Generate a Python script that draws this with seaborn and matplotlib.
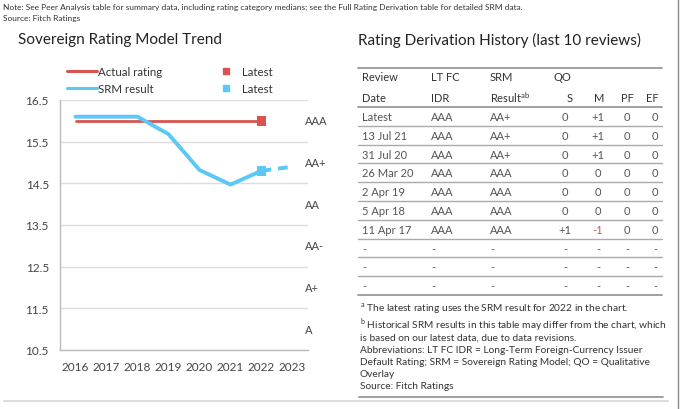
import matplotlib
matplotlib.use("Agg")
import matplotlib.pyplot as plt
from matplotlib.lines import Line2D
from matplotlib import font_manager
import seaborn as sns
import pandas as pd

# ---------------- data ----------------
years = [2016, 2017, 2018, 2019, 2020, 2021, 2022, 2023]
actual_years = [2016, 2017, 2018, 2019, 2020, 2021, 2022]
actual_rating = [16.0, 16.0, 16.0, 16.0, 16.0, 16.0, 16.0]
srm_years = [2016, 2017, 2018, 2019, 2020, 2021, 2022]
srm_result = [16.1, 16.1, 16.1, 15.68, 14.82, 14.47, 14.8]
srm_fcst_years = [2022, 2023]
srm_fcst = [14.8, 14.9]
y_ticks = [10.5, 11.5, 12.5, 13.5, 14.5, 15.5, 16.5]
rating_labels = ["A", "A+", "AA-", "AA", "AA+", "AAA"]
rating_levels = [11, 12, 13, 14, 15, 16]

table_header1 = ["Review", "LT FC", "SRM", "QO", "", "", ""]
table_header2 = ["Date", "IDR", "Result", "S", "M", "PF", "EF"]
review_dates = ["Latest", "13 Jul 21", "31 Jul 20", "26 Mar 20", "2 Apr 19",
                "5 Apr 18", "11 Apr 17", "-", "-", "-"]
lt_fc_idr = ["AAA", "AAA", "AAA", "AAA", "AAA", "AAA", "AAA", "-", "-", "-"]
srm_res = ["AA+", "AA+", "AA+", "AAA", "AAA", "AAA", "AAA", "-", "-", "-"]
qo_s = ["0", "0", "0", "0", "0", "0", "+1", "-", "-", "-"]
qo_m = ["+1", "+1", "+1", "0", "0", "0", "-1", "-", "-", "-"]
qo_pf = ["0", "0", "0", "0", "0", "0", "0", "-", "-", "-"]
qo_ef = ["0", "0", "0", "0", "0", "0", "0", "-", "-", "-"]

RED = "#D9534F"
BLUE = "#5BC8F5"
TXT = "#333333"

sns.set_theme(style="white")
plt.rcParams["font.family"] = ["Lato", "DejaVu Sans"]

installed = {f.name for f in font_manager.fontManager.ttflist}
NARROW = ["Liberation Sans Narrow", "Lato"] if "Liberation Sans Narrow" in installed else ["Lato"]
note_fs = 6.8 if "Liberation Sans Narrow" in installed else 6.0

W, H = 680, 410
fig = plt.figure(figsize=(W / 100, H / 100), dpi=100)


def fx(x):
    return x / W


def fy(y):
    return 1 - y / H


def ftext(x, y, s, **kw):
    kw.setdefault("color", TXT)
    kw.setdefault("va", "center")
    fig.text(fx(x), fy(y), s, **kw)


def fline(x0, x1, y0, y1, color="#aaaaaa", lw=1.0):
    fig.add_artist(Line2D([fx(x0), fx(x1)], [fy(y0), fy(y1)],
                          transform=fig.transFigure, color=color, lw=lw))


# ---------------- left chart ----------------
ax = fig.add_axes([fx(60), fy(351), (308 - 60) / W, (351 - 101) / H])
df_act = pd.DataFrame({"year": actual_years, "v": actual_rating})
df_srm = pd.DataFrame({"year": srm_years, "v": srm_result})
df_fc = pd.DataFrame({"year": srm_fcst_years, "v": srm_fcst})

sns.lineplot(data=df_act, x="year", y="v", ax=ax, color=RED, lw=2.0, zorder=3)
sns.lineplot(data=df_srm, x="year", y="v", ax=ax, color=BLUE, lw=2.8, zorder=4)
sns.lineplot(data=df_fc, x="year", y="v", ax=ax, color=BLUE, lw=2.8,
             linestyle=(0, (2.5, 1.8)), zorder=4)
sns.scatterplot(x=[actual_years[-1]], y=[actual_rating[-1]], ax=ax, color=RED,
                marker="s", s=50, edgecolor="none", zorder=5)
sns.scatterplot(x=[srm_years[-1]], y=[srm_result[-1]], ax=ax, color=BLUE,
                marker="s", s=50, edgecolor="none", zorder=5)

ax.set_xlim(2015.5, 2023.5)
ax.set_ylim(10.5, 16.5)
ax.set_yticks(y_ticks)
ax.set_yticklabels([f"{t:.1f}" for t in y_ticks])
ax.set_xticks(years)
ax.set_xticklabels([str(y) for y in years])
ax.set_xlabel("")
ax.set_ylabel("")
ax.grid(axis="y", color="#dddddd", lw=1.0)
ax.grid(axis="x", visible=False)
for s in ["top", "right"]:
    ax.spines[s].set_visible(False)
for s in ["left", "bottom"]:
    ax.spines[s].set_color("#bbbbbb")
    ax.spines[s].set_linewidth(1.0)
ax.tick_params(axis="both", length=0, labelsize=8.5, colors="#444444")
ax.tick_params(axis="y", pad=8)
ax.tick_params(axis="x", pad=8)
for lvl, lab in zip(rating_levels, rating_labels):
    ax.text((305 - 60) / 248, lvl, lab, transform=ax.get_yaxis_transform(),
            ha="left", va="center", fontsize=8, color="#444444", clip_on=False)

handles = [
    Line2D([], [], color=RED, lw=2.2),
    Line2D([], [], color=BLUE, lw=2.2),
    Line2D([], [], color=RED, marker="s", ls="none", markersize=5),
    Line2D([], [], color=BLUE, marker="s", ls="none", markersize=5),
]
labels = ["Actual rating", "SRM result", "Latest", "Latest"]
fig.legend(handles, labels, ncol=2, loc="upper left",
           bbox_to_anchor=(fx(57), fy(57)), frameon=False, fontsize=8.3,
           handlelength=2.6, handletextpad=0.1, columnspacing=4.2,
           labelspacing=0.5, labelcolor="#333333")

# ---------------- header texts ----------------
ftext(3, 7, "Note: See Peer Analysis table for summary data, including rating category medians; "
      "see the Full Rating Derivation table for detailed SRM data.", fontsize=note_fs,
      family=NARROW)
ftext(3, 19, "Source: Fitch Ratings", fontsize=note_fs, family=NARROW)
ftext(18, 40, "Sovereign Rating Model Trend", fontsize=11, color="#222222")
ftext(358, 40, "Rating Derivation History (last 10 reviews)", fontsize=11, color="#222222")

# ---------------- table ----------------
fs = 8
col_x = [362, 431, 490, 565, 598, 627, 655]
col_ha = ["left", "left", "left", "center", "center", "center", "center"]
ftext(362, 78, table_header1[0], fontsize=fs)
ftext(431, 78, table_header1[1], fontsize=fs)
ftext(490, 78, table_header1[2], fontsize=fs)
ftext(554, 78, table_header1[3], fontsize=fs)
hdr_x = [362, 431, 490, 570, 599, 627, 652]
for i, h in enumerate(table_header2):
    if i == 2:
        ftext(hdr_x[i], 98, h + "$^{\\mathregular{ab}}$", fontsize=fs, ha="left")
    else:
        ftext(hdr_x[i], 98, h, fontsize=fs, ha=col_ha[i])

cols = [review_dates, lt_fc_idr, srm_res, qo_s, qo_m, qo_pf, qo_ef]
row_y0, row_dy = 117.5, 18.8
for r in range(len(review_dates)):
    y = row_y0 + r * row_dy
    for c, colvals in enumerate(cols):
        val = colvals[r]
        color = RED if val == "-1" else "#555555"
        ftext(col_x[c], y, val, fontsize=fs, ha=col_ha[c], color=color)

fline(358, 662, 69, 69, color="#999999", lw=1.3)
for k in range(11):
    y = 108 + k * 18.8
    heavy = k in (0, 10)
    fline(358, 662, y, y, color="#999999" if heavy else "#aaaaaa",
          lw=1.3 if heavy else 1.0)

fnote = 7.3
ftext(360, 309, "$^{\\mathregular{a}}$ The latest rating uses the SRM result for 2022 in the chart.", fontsize=fnote)
ftext(360, 325.5, "$^{\\mathregular{b}}$ Historical SRM results in this table may differ from the chart, which", fontsize=fnote)
ftext(360, 338, "is based on our latest data, due to data revisions.", fontsize=fnote)
ftext(360, 350.5, "Abbreviations: LT FC IDR = Long-Term Foreign-Currency Issuer", fontsize=fnote)
ftext(360, 363, "Default Rating; SRM = Sovereign Rating Model; QO = Qualitative", fontsize=fnote)
ftext(360, 375, "Overlay", fontsize=fnote)
ftext(360, 387, "Source: Fitch Ratings", fontsize=fnote)
fline(359, 663, 398, 398, color="#999999", lw=1.3)

# frame lines
fline(4, 668, 402, 402, color="#dddddd", lw=1.5)
fline(678, 678, 0, 410, color="#888888", lw=1.0)

fig.savefig("out.png", dpi=100)
